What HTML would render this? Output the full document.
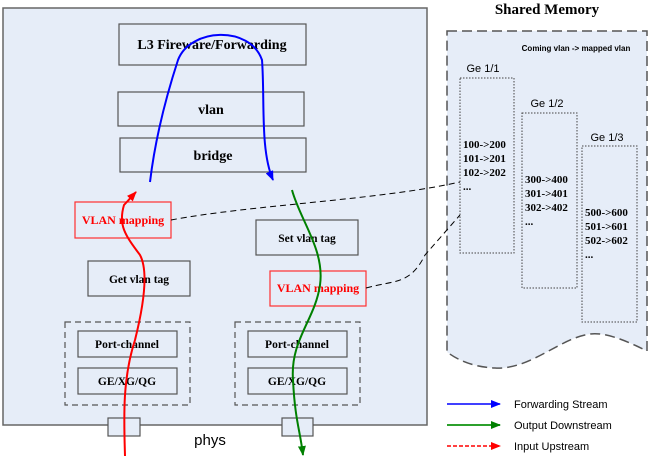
<!DOCTYPE html>
<html><head><style>body{margin:0;background:#fff}svg{display:block}</style></head><body>
<svg width="663" height="464" viewBox="0 0 663 464" xmlns="http://www.w3.org/2000/svg">
<defs>
<marker id="ab" markerWidth="10" markerHeight="8" refX="9" refY="4" orient="auto" markerUnits="userSpaceOnUse"><path d="M0,0L10,4L0,8z" fill="#0000ff"/></marker>
<marker id="ag" markerWidth="10" markerHeight="8" refX="9" refY="4" orient="auto" markerUnits="userSpaceOnUse"><path d="M0,0L10,4L0,8z" fill="#008000"/></marker>
<marker id="ar" markerWidth="10" markerHeight="8" refX="9" refY="4" orient="auto" markerUnits="userSpaceOnUse"><path d="M0,0L10,4L0,8z" fill="#ff0000"/></marker>
</defs>
<g font-family="Liberation Serif, serif" font-weight="bold" text-anchor="middle">
<rect x="3" y="8" width="424" height="417" fill="#e6edf8" stroke="#666" stroke-width="1.5"/>
<g fill="#e6edf8" stroke="#555" stroke-width="1.2">
<rect x="119" y="24" width="187" height="41"/>
<rect x="118" y="92" width="186" height="34"/>
<rect x="120" y="138" width="186" height="34"/>
<rect x="256" y="220" width="102" height="35"/>
<rect x="88" y="261" width="102" height="35"/>
<rect x="78" y="331" width="99" height="26"/>
<rect x="78" y="368" width="99" height="26"/>
<rect x="248" y="331" width="99" height="26"/>
<rect x="248" y="368" width="99" height="26"/>
<rect x="108" y="418" width="32" height="18"/>
<rect x="282" y="418" width="31" height="18"/>
</g>
<g fill="#e6edf8" stroke="#ff3030" stroke-width="1.2">
<rect x="75" y="202" width="96" height="36"/>
<rect x="270" y="271" width="96" height="35"/>
</g>
<g fill="none" stroke="#555" stroke-dasharray="6,4" stroke-width="1.2">
<rect x="65" y="322" width="125" height="83"/>
<rect x="235" y="322" width="125" height="83"/>
</g>
<g font-size="14" fill="#000">
<text x="212" y="49">L3 Fireware/Forwarding</text>
<text x="211" y="114">vlan</text>
<text x="213" y="160">bridge</text>
</g>
<g font-size="11.5" fill="#000">
<text x="307" y="242">Set vlan tag</text>
<text x="139" y="283">Get vlan tag</text>
<text x="127" y="348">Port-channel</text>
<text x="127" y="385">GE/XG/QG</text>
<text x="297" y="348">Port-channel</text>
<text x="297" y="385">GE/XG/QG</text>
</g>
<g font-size="12" fill="#ff0000">
<text x="123" y="224">VLAN mapping</text>
<text x="318" y="292">VLAN mapping</text>
</g>
<text x="210" y="445" font-family="Liberation Sans, sans-serif" font-weight="normal" font-size="15">phys</text>
<!-- shared memory -->
<text x="547" y="14" font-size="15">Shared Memory</text>
<path d="M447,31 H647 V351 C625,340 605,332 590,334 C560,338 530,370 495,368 C470,367 455,358 447,352 Z" fill="#e6edf8" stroke="#555" stroke-width="1.5" stroke-dasharray="10,5"/>
<text x="576" y="51" font-family="Liberation Sans, sans-serif" font-size="8">Coming vlan -&gt; mapped vlan</text>
<g font-family="Liberation Sans, sans-serif" font-weight="normal" font-size="11" fill="#000">
<text x="483" y="72">Ge 1/1</text><text x="547" y="107">Ge 1/2</text><text x="607" y="141">Ge 1/3</text>
</g>
<g fill="none" stroke="#444" stroke-dasharray="1.5,1.5">
<rect x="460" y="78" width="54" height="175"/>
<rect x="522" y="113" width="55" height="175"/>
<rect x="582" y="146" width="55" height="176"/>
</g>
<g font-size="11" text-anchor="start" fill="#000">
<text x="463" y="148">100-&gt;200</text><text x="463" y="162">101-&gt;201</text><text x="463" y="176">102-&gt;202</text><text x="463" y="190">...</text>
<text x="525" y="183">300-&gt;400</text><text x="525" y="197">301-&gt;401</text><text x="525" y="211">302-&gt;402</text><text x="525" y="225">...</text>
<text x="585" y="216">500-&gt;600</text><text x="585" y="230">501-&gt;601</text><text x="585" y="244">502-&gt;602</text><text x="585" y="258">...</text>
</g>
<g fill="none" stroke="#000" stroke-dasharray="6,4" stroke-width="1">
<path d="M171,220 C250,205 380,200 460,182"/>
<path d="M366,288 C395,280 410,285 425,255 L460,215"/>
</g>
<!-- flows -->
<path d="M150,182 C155,140 165,100 178,60 C190,28 250,25 262,60 C265,100 260,150 273,180" fill="none" stroke="#0000ff" stroke-width="2" marker-end="url(#ab)"/>
<path d="M125,456 C124,420 122,380 135,340 C145,300 148,270 140,255 C125,235 118,225 124,205 L136,192" fill="none" stroke="#ff0000" stroke-width="2" marker-end="url(#ar)"/>
<path d="M292,190 C300,220 325,250 320,285 C315,320 290,340 293,380 C295,420 300,430 303,455" fill="none" stroke="#008000" stroke-width="2" marker-end="url(#ag)"/>
<!-- legend -->
<line x1="447" y1="404" x2="500" y2="404" stroke="#0000ff" stroke-width="1.5" marker-end="url(#ab)"/>
<line x1="447" y1="425" x2="500" y2="425" stroke="#2ca02c" stroke-width="2" marker-end="url(#ag)"/>
<line x1="447" y1="446" x2="500" y2="446" stroke="#ff0000" stroke-width="1.5" stroke-dasharray="4,2" marker-end="url(#ar)"/>
<g font-family="Liberation Sans, sans-serif" font-weight="normal" font-size="11" text-anchor="start" fill="#000">
<text x="514" y="408">Forwarding Stream</text>
<text x="514" y="429">Output Downstream</text>
<text x="514" y="450">Input Upstream</text>
</g>
</g>
</svg>
</body></html>
